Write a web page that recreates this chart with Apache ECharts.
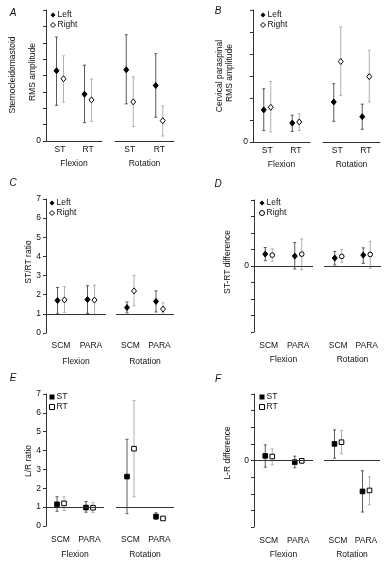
<!DOCTYPE html>
<html>
<head>
<meta charset="utf-8">
<script src="https://cdn.jsdelivr.net/npm/echarts@6/dist/echarts.min.js"></script>
<style>
  html, body { margin: 0; padding: 0; background: #fff; }
  #chart { width: 390px; height: 562px; }
</style>
</head>
<body>
<div id="chart"></div>
<script>
// categories
const groups = ['Flexion', 'Rotation'];
const trialCats = ['ST', 'RT'];
const muscleCats = ['SCM', 'PARA'];

// each row: [mean, low, high]; rows = Flexion cat1, Flexion cat2, Rotation cat1, Rotation cat2
const aLeft = [[4.29, 2.18, 6.35], [2.86, 1.12, 4.63], [4.35, 2.27, 6.49], [3.39, 1.45, 5.33]];
const aRight = [[3.8, 2.37, 5.2], [2.51, 1.2, 3.78], [2.39, 0.88, 3.92], [1.24, 0.31, 2.14]];
const bLeft = [[1.46, 0.52, 2.42], [0.86, 0.48, 1.22], [1.82, 0.94, 2.65], [1.15, 0.58, 1.72]];
const bRight = [[1.58, 0.46, 2.75], [0.91, 0.52, 1.28], [3.66, 2.12, 5.23], [2.97, 1.82, 4.17]];
const cLeft = [[1.7, 1.0, 2.38], [1.75, 1.02, 2.47], [1.33, 1.05, 1.62], [1.65, 1.1, 2.2]];
const cRight = [[1.73, 1.08, 2.42], [1.72, 0.95, 2.5], [2.2, 1.42, 3.0], [1.25, 1.05, 1.58]];
const dLeft = [[0.72, 0.32, 1.12], [0.6, -0.18, 1.42], [0.48, 0.06, 0.88], [0.66, 0.16, 1.1]];
const dRight = [[0.66, 0.28, 1.04], [0.72, -0.22, 1.64], [0.58, 0.22, 1.0], [0.7, -0.14, 1.5]];
const eST = [[1.15, 0.78, 1.55], [0.98, 0.73, 1.3], [2.62, 0.65, 4.6], [0.5, 0.35, 0.7]];
const eRT = [[1.2, 0.82, 1.55], [0.97, 0.72, 1.25], [4.1, 1.55, 6.65], [0.4, 0.35, 0.48]];
const fST = [[0.28, -0.4, 0.94], [-0.1, -0.44, 0.26], [1.0, 0.14, 1.84], [-1.86, -3.1, -0.62]];
const fRT = [[0.24, -0.26, 0.7], [-0.02, -0.16, 0.1], [1.1, 0.4, 1.8], [-1.8, -2.66, -0.98]];

const FONT = '"Liberation Sans", Arial, sans-serif';
const FS = 8.5;

const panels = [
  { letter: 'A', lx: 13, ly: 13, top: 10, bottom: 141, seg: [[46, 102], [115, 174]], min: 0, max: 8,
    base: null, onlyZero: true, cats: trialCats, names: ['Left', 'Right'], data: [aLeft, aRight],
    shapes: ['diamond', 'diamond'], yName: [['Sternocleidomastoid', 13, 75], ['RMS amplitude', 33, 72]],
    legend: [50, 11], labelMargin: 4, nameGap: 18 },
  { letter: 'B', lx: 218, ly: 11, top: 10, bottom: 142, seg: [[253, 310], [323, 380]], min: 0, max: 6,
    base: null, onlyZero: true, cats: trialCats, names: ['Left', 'Right'], data: [bLeft, bRight],
    shapes: ['diamond', 'diamond'], yName: [['Cervical paraspinal', 220, 76], ['RMS amplitude', 230, 73]],
    legend: [260, 11], labelMargin: 4, nameGap: 18 },
  { letter: 'C', lx: 13, ly: 183, top: 199, bottom: 333, seg: [[46, 106], [116, 174]], min: 0, max: 7,
    base: 1, onlyZero: false, cats: muscleCats, names: ['Left', 'Right'], data: [cLeft, cRight],
    shapes: ['diamond', 'diamond'], yName: [['ST/RT ratio', 29, 262]],
    legend: [49, 199], labelMargin: 8, nameGap: 24 },
  { letter: 'D', lx: 218, ly: 184, top: 200, bottom: 332, seg: [[254, 313], [324, 381]], min: -4, max: 4,
    base: 0, onlyZero: true, cats: muscleCats, names: ['Left', 'Right'], data: [dLeft, dRight],
    shapes: ['diamond', 'circle'], yName: [['ST-RT difference', 228, 262]],
    legend: [259, 199], labelMargin: 9, nameGap: 23 },
  { letter: 'E', lx: 13, ly: 378, top: 394, bottom: 526, seg: [[46, 104], [116, 174]], min: 0, max: 7,
    base: 1, onlyZero: false, cats: muscleCats, names: ['ST', 'RT'], data: [eST, eRT],
    shapes: ['square', 'square'], yName: [['L/R ratio', 29, 461]],
    legend: [49, 393], labelMargin: 9, nameGap: 24 },
  { letter: 'F', lx: 218, ly: 379, top: 394, bottom: 527, seg: [[254, 313], [324, 380]], min: -4, max: 4,
    base: 0, onlyZero: true, cats: muscleCats, names: ['ST', 'RT'], data: [fST, fRT],
    shapes: ['square', 'square'], yName: [['L-R difference', 228, 453]],
    legend: [259, 393], labelMargin: 9, nameGap: 23 }
];

const barColors = ['#5a5a5a', '#b0b0b0'];
const offsets = [-3.5, 3.5];

function renderPoint(offset, shape, filled) {
  return function (params, api) {
    const cat = api.value(0);
    const m = api.coord([cat, api.value(1)]);
    const lo = api.coord([cat, api.value(2)]);
    const hi = api.coord([cat, api.value(3)]);
    const x = m[0] + offset;
    const y = m[1];
    const c = api.visual('color');
    const markStyle = { fill: filled ? '#000' : '#fff', stroke: '#000', lineWidth: 1 };
    let marker;
    if (shape === 'diamond') {
      marker = { type: 'polygon', shape: { points: [[x, y - 3], [x + 2.5, y], [x, y + 3], [x - 2.5, y]] }, style: markStyle };
    } else if (shape === 'circle') {
      marker = { type: 'circle', shape: { cx: x, cy: y, r: 2.3 }, style: markStyle };
    } else {
      marker = { type: 'rect', shape: { x: x - 2.3, y: y - 2.3, width: 4.6, height: 4.6 }, style: markStyle };
    }
    return {
      type: 'group',
      children: [
        { type: 'line', shape: { x1: x, y1: hi[1], x2: x, y2: lo[1] }, style: { stroke: c, lineWidth: 1 } },
        { type: 'line', shape: { x1: x - 1.5, y1: hi[1], x2: x + 1.5, y2: hi[1] }, style: { stroke: c, lineWidth: 1 } },
        { type: 'line', shape: { x1: x - 1.5, y1: lo[1], x2: x + 1.5, y2: lo[1] }, style: { stroke: c, lineWidth: 1 } },
        marker
      ]
    };
  };
}

const grid = [], xAxis = [], yAxis = [], series = [], legend = [], graphic = [];

panels.forEach(p => {
  p.seg.forEach((s, g) => {
    const idx = grid.length;
    grid.push({ left: s[0], width: s[1] - s[0], top: p.top, height: p.bottom - p.top, containLabel: false, outerBoundsMode: 'none' });
    xAxis.push({
      gridIndex: idx, type: 'category', data: p.cats,
      axisLine: { show: p.base === null, lineStyle: { color: '#333', width: 1 } },
      axisTick: { show: false },
      axisLabel: { interval: 0, hideOverlap: false, fontSize: FS, color: '#111', fontFamily: FONT, margin: p.labelMargin },
      name: groups[g], nameLocation: 'middle', nameGap: p.nameGap,
      nameTextStyle: { fontSize: FS, color: '#111', fontFamily: FONT }
    });
    yAxis.push({
      gridIndex: idx, type: 'value', min: p.min, max: p.max, interval: 1,
      show: g === 0,
      axisLine: { show: true, lineStyle: { color: '#333', width: 1 } },
      axisTick: { show: true, length: 3, lineStyle: { color: '#333' } },
      splitLine: { show: false },
      axisLabel: {
        fontSize: FS, color: '#111', fontFamily: FONT, margin: 5,
        formatter: v => (p.onlyZero ? (v === 0 ? '0' : '') : String(v))
      }
    });
    p.data.forEach((arr, k) => {
      const rows = arr.slice(g * 2, g * 2 + 2).map((d, i) => [i, d[0], d[1], d[2]]);
      const s2 = {
        type: 'custom', name: p.names[k], xAxisIndex: idx, yAxisIndex: idx,
        itemStyle: { color: barColors[k] },
        renderItem: renderPoint(offsets[k], p.shapes[k], k === 0),
        encode: { x: 0, y: [1, 2, 3] },
        data: rows, silent: true
      };
      if (k === 0 && p.base !== null) {
        s2.markLine = {
          silent: true, symbol: 'none', label: { show: false },
          lineStyle: { color: '#333', width: 1, type: 'solid' },
          data: [{ yAxis: p.base }]
        };
      }
      series.push(s2);
    });
  });

  const icon = s => (s === 'circle' ? 'circle' : s === 'square' ? 'rect' : 'diamond');
  legend.push({
    orient: 'vertical', left: p.legend[0], top: p.legend[1] - 1, padding: 0,
    itemWidth: 5, itemHeight: 5, itemGap: 0, selectedMode: false,
    textStyle: { fontSize: FS, lineHeight: 10, color: '#111', fontFamily: FONT, padding: [0, 0, 0, -3] },
    data: p.names.map((n, k) => ({
      name: n, icon: icon(p.shapes[k]),
      itemStyle: k === 0 ? { color: '#000', borderWidth: 0 } : { color: '#fff', borderColor: '#000', borderWidth: 1 }
    }))
  });

  graphic.push({
    type: 'text', x: p.lx, y: p.ly,
    style: { text: p.letter, font: 'italic 10px ' + FONT, fill: '#111', textAlign: 'center', textVerticalAlign: 'middle' }
  });
  p.yName.forEach(n => {
    graphic.push({
      type: 'text', x: n[1], y: n[2], rotation: Math.PI / 2,
      style: { text: n[0], font: FS + 'px ' + FONT, fill: '#111', textAlign: 'center', textVerticalAlign: 'middle' }
    });
  });
});

const chart = echarts.init(document.getElementById('chart'));
chart.setOption({
  animation: false,
  backgroundColor: '#fff',
  grid, xAxis, yAxis, series, legend, graphic
});
</script>
</body>
</html>
